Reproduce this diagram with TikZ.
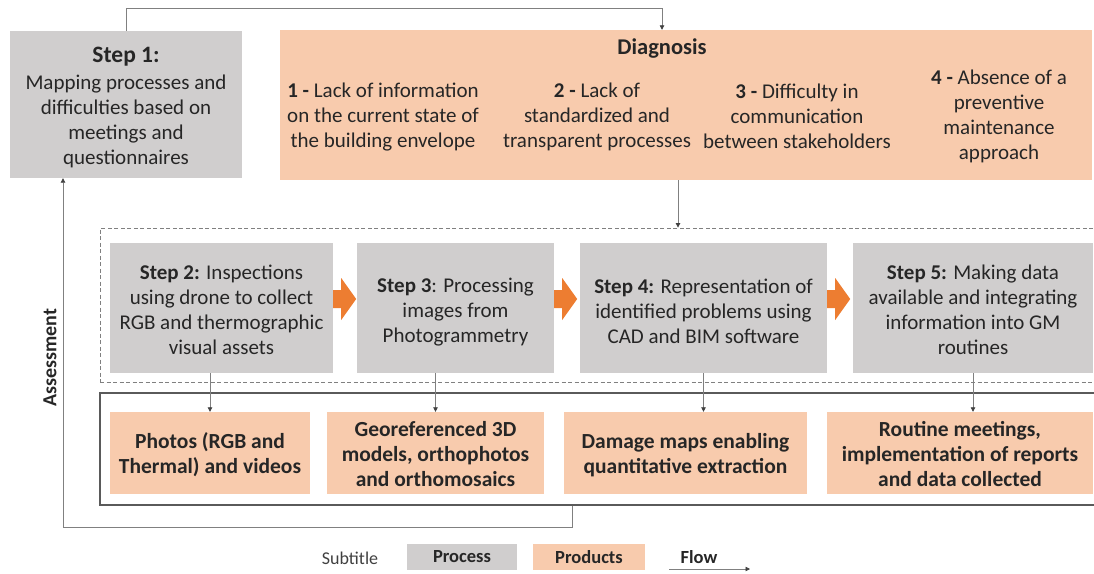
\documentclass[tikz,border=0pt]{standalone}
\usepackage{fontspec}
\setmainfont{Carlito}
\usetikzlibrary{arrows.meta,calc}
\definecolor{procgray}{HTML}{D0CECE}
\definecolor{prodorange}{HTML}{F8CBAD}
\definecolor{arroworange}{HTML}{ED7D31}
\definecolor{inkdark}{HTML}{262626}
\definecolor{linegray}{HTML}{808080}
\definecolor{framegray}{HTML}{5A5A5A}
\begin{document}
\begin{tikzpicture}[x=1pt,y=-1pt,
  every node/.style={text=inkdark, font=\fontsize{21}{25}\selectfont},
  proc/.style={fill=procgray, inner sep=0pt, align=center},
  prod/.style={fill=prodorange, inner sep=0pt, align=center},
  txt/.style={inner sep=0pt, align=center},
  prodtxt/.style={txt, font=\fontsize{21.5}{25}\selectfont\bfseries},
  smallbold/.style={font=\fontsize{18.5}{22}\selectfont\bfseries},
  blockarrow/.style={fill=arroworange, draw=none},
  flow/.style={draw=linegray, line width=0.8pt,
    -{Triangle[length=4.5pt,width=4.5pt,color=black!75]}},
  ]
\useasboundingbox (0,0) rectangle (1094,573);
\clip (0,0) rectangle (1094,573);

% frames of the assessment stage
\node[draw=linegray, dash pattern=on 4pt off 2.5pt, line width=0.9pt,
  minimum width=998pt, minimum height=154pt, inner sep=0pt] (stage) at (599,305) {};
\node[draw=framegray, line width=1.3pt,
  minimum width=998pt, minimum height=112pt, inner sep=0pt] (prodframe) at (599,449) {};

% step 1
\node[proc, minimum width=232pt, minimum height=147pt,
  label={[txt,yshift=-3pt]center:{{\fontsize{23.5}{27}\selectfont\bfseries Step 1:}\\[2pt]Mapping processes and\\difficulties based on\\meetings and\\questionnaires}}]
  (s1) at (126,104.5) {};

% diagnosis
\node[prod, minimum width=812pt, minimum height=150pt] (diag) at (686,105) {};
\node[txt, font=\fontsize{22.5}{25}\selectfont\bfseries] (dtitle) at (662,49) {Diagnosis};
\node[txt] (d1) at (383,117) {\textbf{1 -} Lack of information\\on the current state of\\the building envelope};
\node[txt] (d2) at (597,117) {\textbf{2 -} Lack of\\standardized and\\transparent processes};
\node[txt] (d3) at (797,116.5) {\textbf{3 -} Difficulty in\\communication\\between stakeholders};
\node[txt] (d4) at (999,116.5) {\textbf{4 -} Absence of a\\preventive\\maintenance\\approach};

% process steps
\node[proc, minimum width=223pt, minimum height=130pt,
  label={[txt,yshift=-2pt]center:{\textbf{Step 2:} Inspections\\using drone to collect\\RGB and thermographic\\visual assets}}]
  (s2) at (221.5,308) {};
\node[proc, minimum width=197pt, minimum height=130pt,
  label={[txt,yshift=-4pt]center:{\textbf{Step 3}: Processing\\images from\\Photogrammetry}}]
  (s3) at (455.5,308) {};
\node[proc, minimum width=247pt, minimum height=130pt,
  label={[txt,yshift=-3pt]center:{\textbf{Step 4:} Representation of\\identified problems using\\CAD and BIM software}}]
  (s4) at (703.5,308) {};
\node[proc, minimum width=240pt, minimum height=130pt,
  label={[txt,yshift=-2pt]center:{\textbf{Step 5:} Making data\\available and integrating\\information into GM\\routines}}]
  (s5) at (973,308) {};

% orange block arrows between the steps
\foreach \a in {s2,s3,s4}{
  \fill[blockarrow] ([yshift=9pt]\a.east) ++(0,-9) -- ++(8,0) -- ++(0,-12)
    -- ++(15,21) -- ++(-15,21) -- ++(0,-12) -- ++(-8,0) -- cycle;
}

% products
\node[prod, minimum width=200pt, minimum height=82pt,
  label={[prodtxt,yshift=-2pt]center:{Photos (RGB and\\Thermal) and videos}}]
  (p1) at (210,453) {};
\node[prod, minimum width=217pt, minimum height=82pt,
  label={[prodtxt,yshift=-1pt]center:{Georeferenced 3D\\models, orthophotos\\and orthomosaics}}]
  (p2) at (435.5,453) {};
\node[prod, minimum width=243pt, minimum height=82pt,
  label={[prodtxt,yshift=-2.5pt]center:{Damage maps enabling\\quantitative extraction}}]
  (p3) at (685.5,453) {};
\node[prod, minimum width=266pt, minimum height=82pt,
  label={[prodtxt,yshift=-1pt]center:{Routine meetings,\\implementation of reports\\and data collected}}]
  (p4) at (960,453) {};

% side label
\node[txt, rotate=90, font=\fontsize{20}{24}\selectfont\bfseries] (assess) at (50,358) {Assessment};

% flow connectors
\draw[flow] (s1.north) -- ++(0,-22) -| (dtitle.north |- diag.north);
\draw[flow] ([xshift=-8pt]diag.south) -- ([xshift=-8pt]diag.south |- stage.north);
\draw[flow] (p1.north |- s2.south) -- (p1.north);
\draw[flow] (p2.north |- s3.south) -- (p2.north);
\draw[flow] (s4.south) -- (s4.south |- p3.north);
\draw[flow] (s5.south) -- (s5.south |- p4.north);

\coordinate (fbR) at (572,527);
\coordinate (fbL) at (63,527);
\draw[flow] (prodframe.south -| fbR) -- (fbR) -- (fbL) -- (s1.south -| fbL);

% legend
\node[txt, font=\fontsize{18}{22}\selectfont, text=black!75] (subt) at (350,558) {Subtitle};
\node[proc, smallbold, minimum width=110pt, minimum height=26pt] (lgproc) at (462,557) {Process};
\node[prod, smallbold, minimum width=112pt, minimum height=26pt] (lgprod) at (589,557) {Products};
\node[txt, smallbold] (lgflow) at (699,557) {Flow};
\coordinate (fl0) at (669,569);
\coordinate (fl1) at (750,569);
\draw[flow] (fl0) -- (fl1);
\end{tikzpicture}
\end{document}
